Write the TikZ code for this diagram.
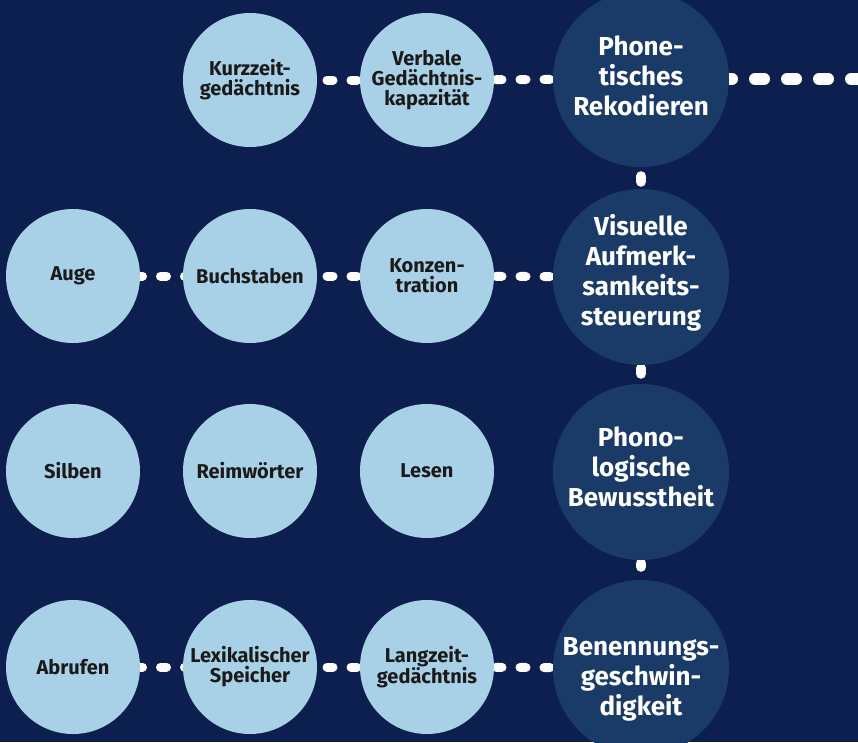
\documentclass[tikz,border=0pt]{standalone}
\usepackage{fontspec}
\setmainfont{Fira Sans}
\pgfdeclarelayer{bg}
\pgfdeclarelayer{lines}
\pgfsetlayers{bg,lines,main}
\definecolor{navy}{HTML}{0C1F4F}
\definecolor{bigblue}{HTML}{1A3B68}
\definecolor{lightblue}{HTML}{A8D1E8}
\definecolor{ink}{HTML}{1A1A1A}
\begin{document}
\begin{tikzpicture}[x=1pt,y=-1pt,
  big/.style={circle,fill=bigblue,minimum size=176pt,inner sep=0pt},
  bigtext/.style={text=white,inner sep=0pt,
    font=\bfseries\fontsize{26}{30}\selectfont,align=center},
  small/.style={circle,fill=lightblue,minimum size=134pt,inner sep=0pt,text=ink,
    font=\bfseries\fontsize{20}{20}\selectfont,align=center},
  hlink/.style={white,line width=9pt,line cap=round,dash pattern=on 6pt off 18pt},
  farlink/.style={white,line width=12pt,line cap=round,dash pattern=on 9pt off 23pt,dash phase=14pt},
  vlink/.style={white,line width=10pt,line cap=round}]
\useasboundingbox (0,0) rectangle (858,742);
\begin{pgfonlayer}{bg}
  \fill[navy] (0,0) rectangle (858,742);
\end{pgfonlayer}
% big circles
\node[big] (p1) at (641,79) {};
\node[big] (p2) at (641,277) {};
\node[big] (p3) at (641,472) {};
\node[big] (p4) at (641,668) {};
\node[bigtext] (t1) at ([yshift=3pt]p1.center) {Phone-\\tisches\\Rekodieren};
\node[bigtext] (t2) at ([yshift=4pt]p2.center) {Visuelle\\Aufmerk-\\samkeits-\\steuerung};
\node[bigtext] (t3) at ([yshift=5pt]p3.center) {Phono-\\logische\\Bewusstheit};
\node[bigtext] (t4) at ([yshift=-11pt]p4.center) {Benennungs-\\geschwin-\\digkeit};
% row 1
\node[small] (k) at (250,80) {Kurzzeit-\\gedächtnis};
\node[small] (v) at (427,80) {Verbale\\Gedächtnis-\\kapazität};
% row 2
\node[small] (a) at (73,276) {Auge};
\node[small] (b) at (250,276) {Buchstaben};
\node[small] (c) at (427,276) {Konzen-\\tration};
% row 3
\node[small] (s) at (73,471) {Silben};
\node[small] (r) at (250,471) {Reimwörter};
\node[small] (l) at (427,471) {Lesen};
% row 4
\node[small] (ab) at (73,667) {Abrufen};
\node[small] (ls) at (250,667) {Lexikalischer\\Speicher};
\node[small] (lz) at (427,667) {Langzeit-\\gedächtnis};
\coordinate (far) at (880,79);
\begin{pgfonlayer}{lines}
  \draw[hlink,dash phase=19pt] (k.center) -- (v.center);
  \draw[hlink,dash phase=3pt] (v.center) -- (p1.center);
  \draw[farlink] (p1.center) -- (far);
  \draw[hlink,dash phase=8.5pt] (a.center) -- (b.center);
  \draw[hlink,dash phase=19pt] (b.center) -- (c.center);
  \draw[hlink,dash phase=3pt] (c.center) -- (p2.center);
  \draw[hlink,dash phase=8.5pt] (ab.center) -- (ls.center);
  \draw[hlink,dash phase=19pt] (ls.center) -- (lz.center);
  \draw[hlink,dash phase=3pt] (lz.center) -- (p4.center);
  \draw[vlink,shorten <=9pt,shorten >=7pt] (p1.south) -- (p2.north);
  \draw[vlink,shorten <=3pt,shorten >=10pt] (p2.south) -- (p3.north);
  \draw[vlink,shorten <=3pt,shorten >=13pt] (p3.south) -- (p4.north);
\end{pgfonlayer}
\end{tikzpicture}
\end{document}
